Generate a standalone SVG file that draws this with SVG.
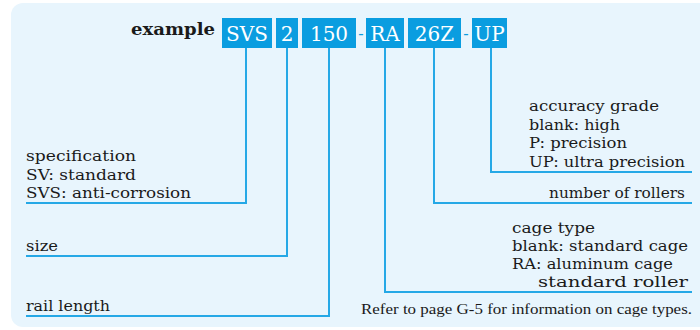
<svg xmlns="http://www.w3.org/2000/svg" width="700" height="330" viewBox="0 0 700 330">
<style>
.bg{fill:#e8f5fd}
.box{fill:#0a9de0}
.bt{font-family:"DejaVu Serif",serif;font-size:20px;fill:#ffffff;text-anchor:middle}
.dash{font-family:"DejaVu Serif",serif;font-size:16px;fill:#0a9de0;text-anchor:middle}
.ln{fill:none;stroke:#25a8e6;stroke-width:2}
.lb{font-family:"DejaVu Serif",serif;font-size:15px;fill:#1a1a1a}
.note{font-family:"Liberation Serif",serif;font-size:15px;fill:#1a1a1a}
.ex{font-family:"DejaVu Serif",serif;font-size:17px;font-weight:bold;fill:#1a1a1a}
</style>
<rect class="bg" x="11" y="3" width="700" height="324" rx="12"/>
<text class="ex" x="131" y="35" textLength="84" lengthAdjust="spacingAndGlyphs">example</text>
<g id="code-svs"><rect class="box" x="222" y="18" width="50" height="30"/><text class="bt" x="247" y="41">SVS</text></g>
<g id="code-2"><rect class="box" x="276" y="18" width="22" height="30"/><text class="bt" x="287" y="41">2</text></g>
<g id="code-150"><rect class="box" x="302" y="18" width="54" height="30"/><text class="bt" x="329" y="41">150</text></g>
<text class="dash" x="361" y="39">-</text>
<g id="code-ra"><rect class="box" x="366" y="18" width="38" height="30"/><text class="bt" x="385" y="41">RA</text></g>
<g id="code-26z"><rect class="box" x="408" y="18" width="53" height="30"/><text class="bt" x="434.5" y="41">26Z</text></g>
<text class="dash" x="466" y="39">-</text>
<g id="code-up"><rect class="box" x="472" y="18" width="35" height="30"/><text class="bt" x="489.5" y="41">UP</text></g>
<g id="connectors">
<polyline class="ln" points="246,48 246,203 26,203"/>
<polyline class="ln" points="287,48 287,256 26,256"/>
<polyline class="ln" points="329,48 329,316 26,316"/>
<polyline class="ln" points="385,48 385,292 692,292"/>
<polyline class="ln" points="434,48 434,203 692,203"/>
<polyline class="ln" points="491,48 491,172 692,172"/>
</g>
<g id="label-spec">
<text class="lb" x="26" y="161" textLength="110" lengthAdjust="spacingAndGlyphs">specification</text>
<text class="lb" x="26" y="180" textLength="110" lengthAdjust="spacingAndGlyphs">SV: standard</text>
<text class="lb" x="26" y="198" textLength="165" lengthAdjust="spacingAndGlyphs">SVS: anti-corrosion</text>
</g>
<g id="label-size"><text class="lb" x="26" y="251" textLength="32" lengthAdjust="spacingAndGlyphs">size</text></g>
<g id="label-rail"><text class="lb" x="26" y="311" textLength="84" lengthAdjust="spacingAndGlyphs">rail length</text></g>
<g id="label-accuracy">
<text class="lb" x="529" y="111" textLength="130" lengthAdjust="spacingAndGlyphs">accuracy grade</text>
<text class="lb" x="529" y="130" textLength="91" lengthAdjust="spacingAndGlyphs">blank: high</text>
<text class="lb" x="529" y="148" textLength="98" lengthAdjust="spacingAndGlyphs">P: precision</text>
<text class="lb" x="529" y="167" textLength="156" lengthAdjust="spacingAndGlyphs">UP: ultra precision</text>
</g>
<g id="label-rollers"><text class="lb" x="549" y="198" textLength="136" lengthAdjust="spacingAndGlyphs">number of rollers</text></g>
<g id="label-cage">
<text class="lb" x="512" y="233" textLength="83" lengthAdjust="spacingAndGlyphs">cage type</text>
<text class="lb" x="512" y="251" textLength="176" lengthAdjust="spacingAndGlyphs">blank: standard cage</text>
<text class="lb" x="512" y="269" textLength="161" lengthAdjust="spacingAndGlyphs">RA: aluminum cage</text>
<text class="lb" x="538" y="287" textLength="150" lengthAdjust="spacingAndGlyphs">standard roller</text>
</g>
<text class="note" x="361" y="314" textLength="331" lengthAdjust="spacingAndGlyphs">Refer to page G-5 for information on cage types.</text>
</svg>
